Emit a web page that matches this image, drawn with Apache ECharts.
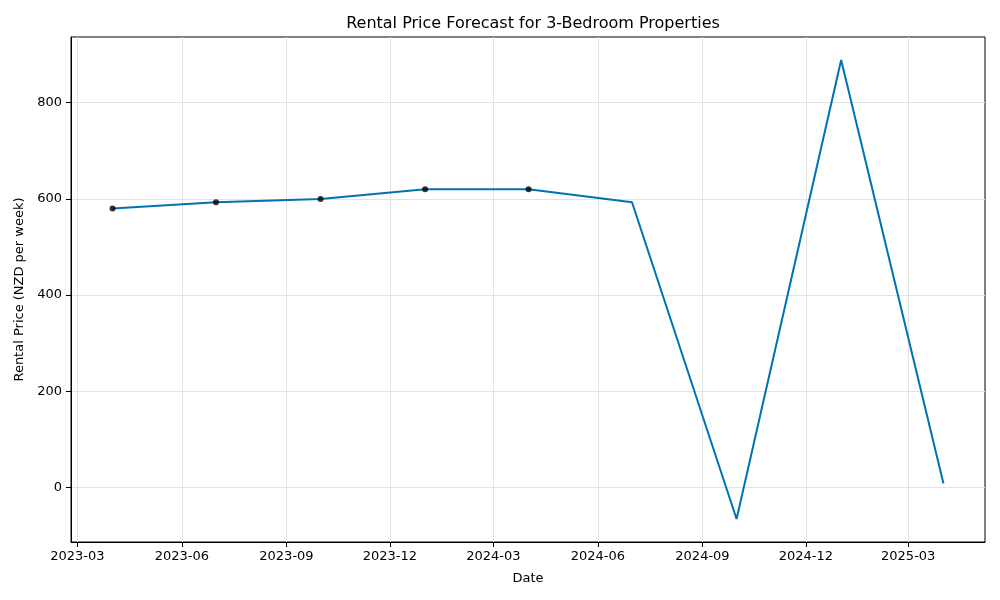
<!DOCTYPE html>
<html>
<head>
<meta charset="utf-8">
<script src="https://cdn.jsdelivr.net/npm/echarts@6/dist/echarts.min.js"></script>
<style>
  html, body { margin: 0; padding: 0; background: #fff; }
  #main { width: 1000px; height: 600px; }
</style>
</head>
<body>
<div id="main"></div>
<script>
// observed points (black dots)
var actualDates = ['2023-04-01', '2023-07-01', '2023-10-01', '2024-01-01', '2024-04-01'];
var actualValues = [580, 593, 600, 620, 620];

// forecast line
var forecastDates = ['2023-04-01', '2023-07-01', '2023-10-01', '2024-01-01', '2024-04-01',
                     '2024-07-01', '2024-10-01', '2025-01-01', '2025-04-01'];
var forecastValues = [580, 593, 600, 620, 620, 593, -66, 889, 8];

// tick labels
var xTickDates = ['2023-03-01', '2023-06-01', '2023-09-01', '2023-12-01', '2024-03-01',
                  '2024-06-01', '2024-09-01', '2024-12-01', '2025-03-01'];
var yTicks = [0, 200, 400, 600, 800];

function ts(s) {
    var p = s.split('-');
    return new Date(+p[0], +p[1] - 1, +p[2]).getTime();
}

// matplotlib-like 5% margins
var xs = forecastDates.map(ts);
var xSpan = xs[xs.length - 1] - xs[0];
var xMin = xs[0] - 0.05 * xSpan, xMax = xs[xs.length - 1] + 0.05 * xSpan;
var yLo = Math.min.apply(null, forecastValues), yHi = Math.max.apply(null, forecastValues);
var yMin = yLo - 0.05 * (yHi - yLo), yMax = yHi + 0.05 * (yHi - yLo);

var font = 'DejaVu Sans';
var myChart = echarts.init(document.getElementById('main'));

var option = {
    animation: false,
    backgroundColor: '#fff',
    title: {
        text: 'Rental Price Forecast for 3-Bedroom Properties',
        left: 528,
        textAlign: 'center',
        top: 11,
        textStyle: { fontFamily: font, fontSize: 16, fontWeight: 'normal', color: '#000' }
    },
    grid: {
        left: 71, right: 15, top: 37, bottom: 58,
        show: true, borderColor: '#000', borderWidth: 1, backgroundColor: 'transparent'
    },
    xAxis: {
        type: 'value',
        min: xMin,
        max: xMax,
        name: 'Date',
        nameLocation: 'middle',
        nameGap: 30,
        nameTextStyle: { fontFamily: font, fontSize: 13, color: '#000' },
        axisLine: { show: true, onZero: false, lineStyle: { color: '#000' } },
        axisTick: {
            show: true, length: 5, lineStyle: { color: '#000' },
            customValues: xTickDates.map(ts)
        },
        axisLabel: {
            customValues: xTickDates.map(ts),
            fontFamily: font, fontSize: 13, color: '#000', margin: 8,
            formatter: function (v) {
                var d = new Date(v);
                return d.getFullYear() + '-' + String(d.getMonth() + 1).padStart(2, '0');
            }
        },
        splitLine: { show: true, lineStyle: { color: '#e3e3e3', width: 1 } }
    },
    yAxis: {
        type: 'value',
        min: yMin,
        max: yMax,
        name: 'Rental Price (NZD per week)',
        nameLocation: 'middle',
        nameGap: 45,
        nameTextStyle: { fontFamily: font, fontSize: 13, color: '#000' },
        axisLine: { show: true, onZero: false, lineStyle: { color: '#000' } },
        axisTick: {
            show: true, length: 5, lineStyle: { color: '#000' },
            customValues: yTicks
        },
        axisLabel: {
            customValues: yTicks,
            fontFamily: font, fontSize: 13, color: '#000', margin: 9
        },
        splitLine: { show: true, lineStyle: { color: '#e3e3e3', width: 1 } }
    },
    series: [
        {
            name: 'forecast',
            type: 'line',
            data: forecastDates.map(function (d, i) { return [ts(d), forecastValues[i]]; }),
            showSymbol: false,
            symbol: 'none',
            lineStyle: { color: '#0072B2', width: 2 },
            z: 2
        },
        {
            name: 'actual',
            type: 'scatter',
            data: actualDates.map(function (d, i) { return [ts(d), actualValues[i]]; }),
            symbolSize: 6,
            itemStyle: { color: '#000' },
            z: 3
        }
    ]
};

myChart.setOption(option);
</script>
</body>
</html>
